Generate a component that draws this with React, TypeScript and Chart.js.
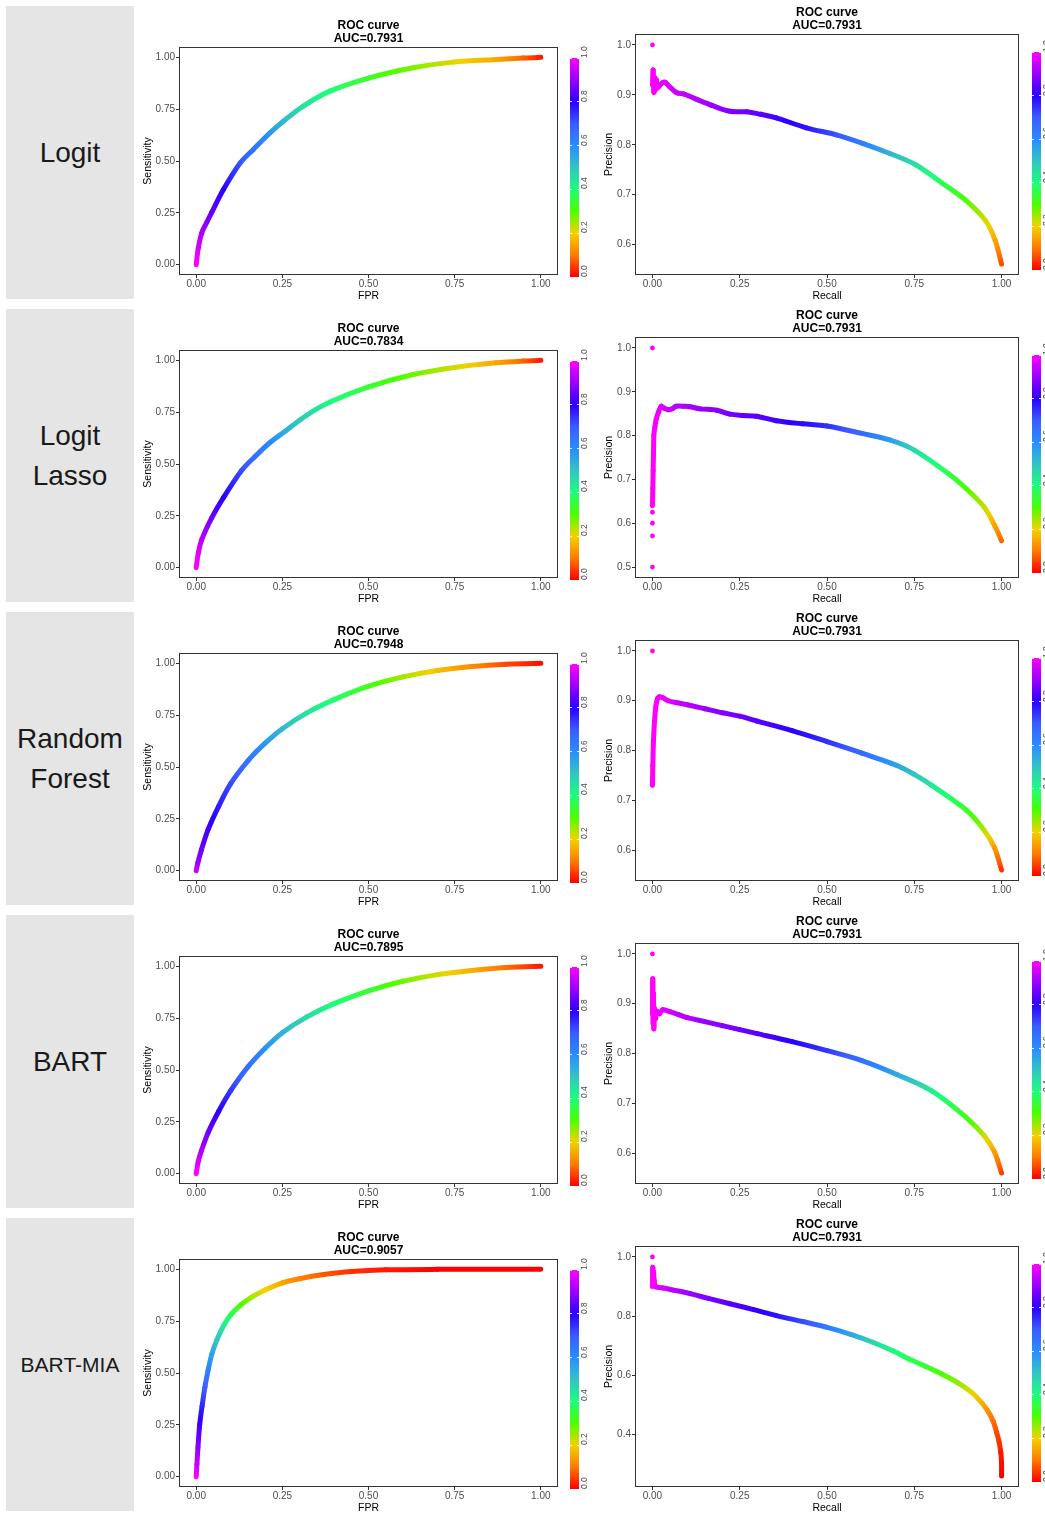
import React, { useEffect, useRef } from 'react';
import { Chart, registerables } from 'chart.js';

Chart.register(...registerables);

const FONT = "'Liberation Sans', Arial, Helvetica, sans-serif";
Chart.defaults.font.family = FONT;

// ---------- labels ----------
const modelNames = ['Logit', 'Logit\nLasso', 'Random\nForest', 'BART', 'BART-MIA'];
const modelFontSizes = [28, 28, 28, 28, 21];
const rocAucLabels = ['0.7931', '0.7834', '0.7948', '0.7895', '0.9057'];
const prAucLabels = ['0.7931', '0.7931', '0.7931', '0.7931', '0.7931'];

// ---------- ticks ----------
const rocTicks = [0, 0.25, 0.5, 0.75, 1];
const recallTicks = [0, 0.25, 0.5, 0.75, 1];
const precisionTicksA = [0.6, 0.7, 0.8, 0.9, 1.0];
const precisionTicksB = [0.5, 0.6, 0.7, 0.8, 0.9, 1.0];
const precisionTicksC = [0.4, 0.6, 0.8, 1.0];
const colorbarTicks = [0, 0.2, 0.4, 0.6, 0.8, 1];

// ---------- colour scale (threshold -> colour) ----------
const colorStopValues = [0, 0.1, 0.2, 0.3, 0.4, 0.5, 0.6, 0.7, 0.8, 0.9, 1.0];
const colorStopHex = ['#ff0000', '#ff7a00', '#f2d200', '#4cff00', '#1aff7a', '#33c4c4', '#2a8cff', '#3a5cff', '#2a00ff', '#9a00ff', '#ff00ff'];

// ---------- ROC curves ----------
const logitFpr = [0, 0.006, 0.016, 0.03, 0.045, 0.079, 0.128, 0.166, 0.214, 0.253, 0.311, 0.388, 0.5, 0.63, 0.746, 0.872, 0.95, 1.0];
const logitTpr = [0, 0.08, 0.153, 0.202, 0.252, 0.362, 0.491, 0.556, 0.636, 0.692, 0.765, 0.837, 0.9, 0.95, 0.977, 0.99, 0.997, 1.0];
const logitRocThr = [1.0, 0.96, 0.92, 0.88, 0.85, 0.8, 0.71, 0.65, 0.58, 0.52, 0.45, 0.4, 0.33, 0.27, 0.21, 0.15, 0.08, 0.02];

const lassoFpr = [0, 0.006, 0.016, 0.045, 0.08, 0.13, 0.17, 0.215, 0.26, 0.32, 0.39, 0.5, 0.63, 0.75, 0.87, 0.95, 1.0];
const lassoTpr = [0, 0.07, 0.135, 0.24, 0.34, 0.465, 0.535, 0.605, 0.66, 0.735, 0.8, 0.872, 0.932, 0.966, 0.988, 0.997, 1.0];
const lassoRocThr = [1.0, 0.97, 0.93, 0.86, 0.8, 0.72, 0.66, 0.6, 0.54, 0.47, 0.41, 0.34, 0.28, 0.22, 0.15, 0.08, 0.02];

const rfFpr = [0, 0.005, 0.015, 0.035, 0.065, 0.1, 0.15, 0.2, 0.25, 0.32, 0.4, 0.5, 0.6, 0.7, 0.8, 0.9, 1.0];
const rfTpr = [0, 0.04, 0.1, 0.2, 0.31, 0.42, 0.53, 0.615, 0.685, 0.76, 0.825, 0.89, 0.935, 0.966, 0.985, 0.996, 1.0];
const rfRocThr = [0.95, 0.9, 0.86, 0.82, 0.77, 0.72, 0.65, 0.58, 0.52, 0.45, 0.39, 0.32, 0.25, 0.18, 0.12, 0.06, 0.01];

const bartFpr = [0, 0.006, 0.015, 0.035, 0.065, 0.1, 0.15, 0.2, 0.25, 0.32, 0.4, 0.5, 0.6, 0.7, 0.8, 0.9, 1.0];
const bartTpr = [0, 0.06, 0.11, 0.2, 0.3, 0.4, 0.515, 0.605, 0.68, 0.755, 0.82, 0.882, 0.928, 0.96, 0.98, 0.994, 1.0];
const bartRocThr = [1.0, 0.96, 0.92, 0.86, 0.8, 0.74, 0.66, 0.59, 0.53, 0.46, 0.4, 0.34, 0.28, 0.22, 0.16, 0.09, 0.02];

const miaFpr = [0, 0.002, 0.005, 0.01, 0.017, 0.025, 0.034, 0.045, 0.06, 0.08, 0.1, 0.13, 0.16, 0.2, 0.25, 0.3, 0.37, 0.45, 0.55, 0.7, 1.0];
const miaTpr = [0, 0.06, 0.14, 0.25, 0.34, 0.43, 0.51, 0.59, 0.66, 0.73, 0.78, 0.83, 0.865, 0.9, 0.935, 0.955, 0.975, 0.99, 0.998, 1.0, 1.0];
const miaRocThr = [1.0, 0.95, 0.89, 0.82, 0.76, 0.69, 0.62, 0.56, 0.5, 0.43, 0.37, 0.3, 0.25, 0.2, 0.15, 0.11, 0.07, 0.04, 0.02, 0.0, 0.0];

// ---------- Precision-recall curves ----------
const logitRecall = [0, 0.002, 0.004, 0.006, 0.008, 0.011, 0.015, 0.022, 0.03, 0.037, 0.051, 0.07, 0.089, 0.127, 0.17, 0.222, 0.27, 0.31, 0.355, 0.441, 0.526, 0.602, 0.678, 0.754, 0.83, 0.897, 0.954, 0.982, 1.0];
const logitPrecision = [0.92, 0.95, 0.905, 0.935, 0.91, 0.93, 0.915, 0.92, 0.925, 0.925, 0.915, 0.904, 0.902, 0.891, 0.879, 0.867, 0.866, 0.861, 0.854, 0.834, 0.82, 0.803, 0.783, 0.76, 0.723, 0.689, 0.648, 0.608, 0.561];
const logitPrThr = [1, 1, 1, 1, 0.99, 0.99, 0.99, 0.98, 0.98, 0.97, 0.96, 0.95, 0.94, 0.92, 0.9, 0.88, 0.86, 0.84, 0.82, 0.78, 0.71, 0.63, 0.53, 0.45, 0.37, 0.3, 0.22, 0.15, 0.06];
const logitDotRecall = [0];
const logitDotPrecision = [1.0];

const lassoRecall = [0, 0.001, 0.002, 0.003, 0.004, 0.007, 0.011, 0.018, 0.025, 0.035, 0.047, 0.058, 0.068, 0.09, 0.108, 0.137, 0.184, 0.222, 0.26, 0.298, 0.355, 0.43, 0.5, 0.6, 0.68, 0.75, 0.85, 0.9, 0.95, 0.98, 1.0];
const lassoPrecision = [0.64, 0.68, 0.72, 0.76, 0.8, 0.82, 0.838, 0.855, 0.867, 0.862, 0.859, 0.862, 0.867, 0.867, 0.866, 0.861, 0.858, 0.849, 0.846, 0.844, 0.834, 0.827, 0.822, 0.805, 0.79, 0.767, 0.712, 0.678, 0.637, 0.595, 0.56];
const lassoPrThr = [1, 1, 1, 1, 1, 0.99, 0.99, 0.98, 0.97, 0.96, 0.95, 0.94, 0.93, 0.92, 0.91, 0.9, 0.88, 0.87, 0.85, 0.84, 0.82, 0.79, 0.75, 0.67, 0.57, 0.46, 0.36, 0.3, 0.23, 0.15, 0.08];
const lassoDotRecall = [0, 0, 0, 0, 0];
const lassoDotPrecision = [1.0, 0.625, 0.6, 0.571, 0.5];

const rfRecall = [0, 0.001, 0.003, 0.006, 0.01, 0.015, 0.02, 0.03, 0.045, 0.07, 0.1, 0.15, 0.2, 0.25, 0.3, 0.4, 0.5, 0.6, 0.7, 0.75, 0.8, 0.9, 0.95, 0.98, 1.0];
const rfPrecision = [0.73, 0.77, 0.82, 0.86, 0.89, 0.905, 0.908, 0.906, 0.9, 0.896, 0.892, 0.884, 0.876, 0.869, 0.859, 0.84, 0.818, 0.795, 0.77, 0.752, 0.73, 0.68, 0.64, 0.605, 0.56];
const rfPrThr = [1, 1, 1, 1, 1, 0.99, 0.99, 0.98, 0.97, 0.95, 0.93, 0.9, 0.88, 0.86, 0.84, 0.8, 0.75, 0.67, 0.56, 0.5, 0.44, 0.33, 0.24, 0.14, 0.04];
const rfDotRecall = [0];
const rfDotPrecision = [1.0];

const bartRecall = [0, 0.001, 0.002, 0.003, 0.004, 0.006, 0.009, 0.012, 0.02, 0.03, 0.05, 0.075, 0.1, 0.15, 0.2, 0.25, 0.3, 0.4, 0.5, 0.6, 0.7, 0.8, 0.9, 0.95, 0.98, 1.0];
const bartPrecision = [0.88, 0.95, 0.86, 0.92, 0.85, 0.89, 0.87, 0.885, 0.88, 0.888, 0.884, 0.878, 0.872, 0.864, 0.856, 0.848, 0.84, 0.824, 0.806, 0.786, 0.758, 0.725, 0.671, 0.635, 0.602, 0.56];
const bartPrThr = [1, 1, 1, 1, 1, 1, 0.99, 0.99, 0.98, 0.97, 0.96, 0.94, 0.93, 0.9, 0.88, 0.86, 0.84, 0.8, 0.74, 0.66, 0.55, 0.43, 0.32, 0.23, 0.14, 0.05];
const bartDotRecall = [0];
const bartDotPrecision = [1.0];

const miaRecall = [0, 0.001, 0.002, 0.003, 0.005, 0.008, 0.013, 0.03, 0.06, 0.108, 0.16, 0.222, 0.29, 0.355, 0.43, 0.498, 0.57, 0.631, 0.69, 0.735, 0.78, 0.83, 0.875, 0.915, 0.945, 0.963, 0.976, 0.986, 0.993, 0.998, 1.0, 1.0];
const miaPrecision = [0.9, 0.965, 0.91, 0.95, 0.92, 0.9, 0.898, 0.895, 0.888, 0.876, 0.86, 0.842, 0.822, 0.802, 0.782, 0.763, 0.738, 0.712, 0.682, 0.655, 0.632, 0.604, 0.575, 0.542, 0.505, 0.475, 0.445, 0.407, 0.375, 0.339, 0.3, 0.26];
const miaPrThr = [1, 1, 1, 1, 1, 0.99, 0.98, 0.96, 0.93, 0.9, 0.87, 0.84, 0.81, 0.78, 0.72, 0.64, 0.55, 0.47, 0.41, 0.37, 0.34, 0.3, 0.26, 0.21, 0.16, 0.12, 0.09, 0.06, 0.04, 0.02, 0.01, 0.0];
const miaDotRecall = [0];
const miaDotPrecision = [1.0];

// ---------- tables built from the arrays ----------
const rocCurves = [
  { x: logitFpr, y: logitTpr, t: logitRocThr },
  { x: lassoFpr, y: lassoTpr, t: lassoRocThr },
  { x: rfFpr, y: rfTpr, t: rfRocThr },
  { x: bartFpr, y: bartTpr, t: bartRocThr },
  { x: miaFpr, y: miaTpr, t: miaRocThr },
];
const prCurves = [
  { x: logitRecall, y: logitPrecision, t: logitPrThr, dx: logitDotRecall, dy: logitDotPrecision },
  { x: lassoRecall, y: lassoPrecision, t: lassoPrThr, dx: lassoDotRecall, dy: lassoDotPrecision },
  { x: rfRecall, y: rfPrecision, t: rfPrThr, dx: rfDotRecall, dy: rfDotPrecision },
  { x: bartRecall, y: bartPrecision, t: bartPrThr, dx: bartDotRecall, dy: bartDotPrecision },
  { x: miaRecall, y: miaPrecision, t: miaPrThr, dx: miaDotRecall, dy: miaDotPrecision },
];
const prYTicks = [precisionTicksA, precisionTicksB, precisionTicksA, precisionTicksA, precisionTicksC];

// ---------- helpers ----------
function hexToRgb(h: string) {
  return [parseInt(h.slice(1, 3), 16), parseInt(h.slice(3, 5), 16), parseInt(h.slice(5, 7), 16)];
}
function colorAt(t: number) {
  const v = Math.max(0, Math.min(1, t));
  let i = 0;
  while (i < colorStopValues.length - 2 && v > colorStopValues[i + 1]) i++;
  const a = colorStopValues[i];
  const b = colorStopValues[i + 1];
  const f = (v - a) / (b - a);
  const c0 = hexToRgb(colorStopHex[i]);
  const c1 = hexToRgb(colorStopHex[i + 1]);
  const c = c0.map((c, k) => Math.round(c + (c1[k] - c) * f));
  return `rgb(${c[0]},${c[1]},${c[2]})`;
}

function controlArm(from: any, a: any, b: any, segLen: number, sign: number) {
  // Catmull-Rom tangent, arm length limited to avoid overshoot
  let mx = (b.x - a.x) / 6;
  let my = (b.y - a.y) / 6;
  const len = Math.hypot(mx, my);
  const lim = segLen * 0.4;
  if (len > lim && len > 0) {
    mx *= lim / len;
    my *= lim / len;
  }
  return { x: from.x + sign * mx, y: from.y + sign * my };
}

const panelPlugin = {
  id: 'panelPlugin',
  afterDatasetsDraw(chart: any) {
    const ctx = chart.ctx;
    chart.data.datasets.forEach((ds: any, di: number) => {
      if (!ds.gradientCurve) return;
      const meta = chart.getDatasetMeta(di);
      const pts = meta.data.map((el: any) => ({ x: el.x, y: el.y }));
      const th = ds.thresholds;
      const n = pts.length;
      ctx.save();
      ctx.lineWidth = ds.curveWidth;
      ctx.lineCap = 'round';
      ctx.lineJoin = 'round';
      for (let i = 0; i < n - 1; i++) {
        const p0 = pts[Math.max(0, i - 1)];
        const p1 = pts[i];
        const p2 = pts[i + 1];
        const p3 = pts[Math.min(n - 1, i + 2)];
        const seg = Math.hypot(p2.x - p1.x, p2.y - p1.y);
        if (seg < 0.1) continue;
        const c1 = controlArm(p1, p0, p2, seg, 1);
        const c2 = controlArm(p2, p1, p3, seg, -1);
        const g = ctx.createLinearGradient(p1.x, p1.y, p2.x, p2.y);
        for (let k = 0; k <= 4; k++) {
          g.addColorStop(k / 4, colorAt(th[i] + ((th[i + 1] - th[i]) * k) / 4));
        }
        ctx.strokeStyle = g;
        ctx.beginPath();
        ctx.moveTo(p1.x, p1.y);
        ctx.bezierCurveTo(c1.x, c1.y, c2.x, c2.y, p2.x, p2.y);
        ctx.stroke();
      }
      ctx.restore();
    });
    const a = chart.chartArea;
    ctx.save();
    ctx.strokeStyle = '#333333';
    ctx.lineWidth = 1;
    ctx.strokeRect(Math.round(a.left) + 0.5, Math.round(a.top) + 0.5, Math.round(a.right - a.left) - 1, Math.round(a.bottom - a.top) - 1);
    ctx.restore();
  },
};

type PanelSpec = {
  curve: { x: number[]; y: number[]; t: number[] };
  dotsX: number[];
  dotsY: number[];
  xTicks: number[];
  yTicks: number[];
  yMin: number;
  yMax: number;
  xDigits: number;
  yDigits: number;
  xLabel: string;
  yLabel: string;
  title: string[];
  yAxisWidth: number;
  rightPad: number;
  titlePadTop: number;
  titlePadBottom: number;
  yTitlePad: number;
};

function makeConfig(p: PanelSpec): any {
  const tickFont = { family: FONT, size: 10 };
  const axisTitleFont = { family: FONT, size: 10.5, lineHeight: 1.2 };
  const grid = { display: true, drawOnChartArea: false, drawTicks: true, tickLength: 3, tickColor: '#333333', tickWidth: 1 };
  return {
    type: 'scatter',
    data: {
      datasets: [
        {
          data: p.curve.x.map((x, i) => ({ x, y: p.curve.y[i] })),
          showLine: false,
          pointRadius: 0,
          pointHoverRadius: 0,
          gradientCurve: true,
          thresholds: p.curve.t,
          curveWidth: 5,
        },
        {
          data: p.dotsX.map((x, i) => ({ x, y: p.dotsY[i] })),
          showLine: false,
          pointRadius: 2.4,
          pointBorderWidth: 0,
          pointBackgroundColor: colorAt(1),
          pointBorderColor: colorAt(1),
        },
      ],
    },
    options: {
      responsive: false,
      animation: false,
      devicePixelRatio: 1,
      events: [],
      layout: { padding: { left: 0, right: p.rightPad, top: 0, bottom: 0 } },
      plugins: {
        legend: { display: false },
        tooltip: { enabled: false },
        title: {
          display: true,
          text: p.title,
          color: '#000000',
          fullSize: false,
          font: { family: FONT, size: 12, weight: 'bold', lineHeight: 13 / 12 },
          padding: { top: p.titlePadTop, bottom: p.titlePadBottom },
        },
      },
      scales: {
        x: {
          type: 'linear',
          min: -0.05,
          max: 1.05,
          afterBuildTicks: (s: any) => {
            s.ticks = p.xTicks.map((v) => ({ value: v }));
          },
          afterFit: (s: any) => {
            s.height = 28;
          },
          ticks: {
            callback: (v: any) => Number(v).toFixed(p.xDigits),
            color: '#4d4d4d',
            font: tickFont,
            padding: 0,
            maxRotation: 0,
            autoSkip: false,
          },
          grid,
          border: { display: false },
          title: { display: true, text: p.xLabel, color: '#000000', font: axisTitleFont, padding: { top: 0, bottom: 0.5 } },
        },
        y: {
          type: 'linear',
          min: p.yMin,
          max: p.yMax,
          afterBuildTicks: (s: any) => {
            s.ticks = p.yTicks.map((v) => ({ value: v }));
          },
          afterFit: (s: any) => {
            s.width = p.yAxisWidth;
          },
          ticks: {
            callback: (v: any) => Number(v).toFixed(p.yDigits),
            color: '#4d4d4d',
            font: tickFont,
            padding: 1,
            autoSkip: false,
          },
          grid,
          border: { display: false },
          title: { display: true, text: p.yLabel, color: '#000000', font: axisTitleFont, padding: { top: p.yTitlePad, bottom: 0 } },
        },
      },
    },
    plugins: [panelPlugin],
  };
}

function PlotCanvas({ left, top, spec }: { left: number; top: number; spec: PanelSpec }) {
  const ref = useRef<HTMLCanvasElement | null>(null);
  useEffect(() => {
    if (!ref.current) return;
    const chart = new Chart(ref.current, makeConfig(spec));
    return () => chart.destroy();
  }, []);
  return (
    <canvas
      ref={ref}
      width={455}
      height={303}
      style={{ position: 'absolute', left, top, width: 455, height: 303, display: 'block' }}
    />
  );
}

function ColorBar({ left, top, height }: { left: number; top: number; height: number }) {
  const gradient = `linear-gradient(to top, ${colorStopHex.map((c, i) => `${c} ${colorStopValues[i] * 100}%`).join(', ')})`;
  return (
    <>
      <div style={{ position: 'absolute', left, top, width: 9, height, background: gradient }} />
      {colorbarTicks.map((v) => {
        const y = top + height * (1 - v);
        return (
          <React.Fragment key={v}>
            <div style={{ position: 'absolute', left, top: y - 0.5, width: 2, height: 1, background: 'rgba(255,255,255,0.85)' }} />
            <div style={{ position: 'absolute', left: left + 7, top: y - 0.5, width: 2, height: 1, background: 'rgba(255,255,255,0.85)' }} />
            <div
              style={{
                position: 'absolute',
                left: left + 10,
                top: y,
                transform: 'rotate(-90deg)',
                transformOrigin: '0 0',
                fontSize: 8.5,
                lineHeight: '8px',
                color: '#4d4d4d',
                whiteSpace: 'nowrap',
              }}
            >
              {v.toFixed(1)}
            </div>
          </React.Fragment>
        );
      })}
    </>
  );
}

function prRange(curve: { y: number[] }, dots: number[]) {
  const lo = Math.min(...curve.y, ...dots);
  const hi = Math.max(...curve.y, ...dots);
  const pad = (hi - lo) * 0.05;
  return [lo - pad, hi + pad];
}

export default function App() {
  const ROW = 303;
  return (
    <div
      style={{
        position: 'absolute',
        left: 0,
        top: 0,
        width: 1045,
        height: 1513,
        overflow: 'hidden',
        background: '#ffffff',
        fontFamily: FONT,
      }}
    >
      {modelNames.map((name, r) => {
        const top = r * ROW;
        const roc = rocCurves[r];
        const pr = prCurves[r];
        const [pMin, pMax] = prRange(pr, pr.dy);
        const rocSpec: PanelSpec = {
          curve: roc,
          dotsX: [],
          dotsY: [],
          xTicks: rocTicks,
          yTicks: rocTicks,
          yMin: -0.05,
          yMax: 1.05,
          xDigits: 2,
          yDigits: 2,
          xLabel: 'FPR',
          yLabel: 'Sensitivity',
          title: ['ROC curve', `AUC=${rocAucLabels[r]}`],
          yAxisWidth: 44,
          rightPad: 32,
          titlePadTop: 19,
          titlePadBottom: 2,
          yTitlePad: 6.5,
        };
        const prSpec: PanelSpec = {
          curve: pr,
          dotsX: pr.dx,
          dotsY: pr.dy,
          xTicks: recallTicks,
          yTicks: prYTicks[r],
          yMin: pMin,
          yMax: pMax,
          xDigits: 2,
          yDigits: 1,
          xLabel: 'Recall',
          yLabel: 'Precision',
          title: ['ROC curve', `AUC=${prAucLabels[r]}`],
          yAxisWidth: 45,
          rightPad: 26,
          titlePadTop: 6,
          titlePadBottom: 2,
          yTitlePad: 13,
        };
        return (
          <React.Fragment key={name}>
            <div
              style={{
                position: 'absolute',
                left: 6,
                top: top + 6,
                width: 128,
                height: 293,
                background: '#e5e5e5',
                display: 'flex',
                alignItems: 'center',
                justifyContent: 'center',
                textAlign: 'center',
                whiteSpace: 'pre-line',
                fontSize: modelFontSizes[r],
                lineHeight: '40px',
                color: '#1a1a1a',
              }}
            >
              {name}
            </div>
            <PlotCanvas left={135} top={top} spec={rocSpec} />
            <ColorBar left={570} top={top + 58} height={219} />
            <PlotCanvas left={590} top={top} spec={prSpec} />
            <ColorBar left={1032} top={top + 52} height={218} />
          </React.Fragment>
        );
      })}
    </div>
  );
}
